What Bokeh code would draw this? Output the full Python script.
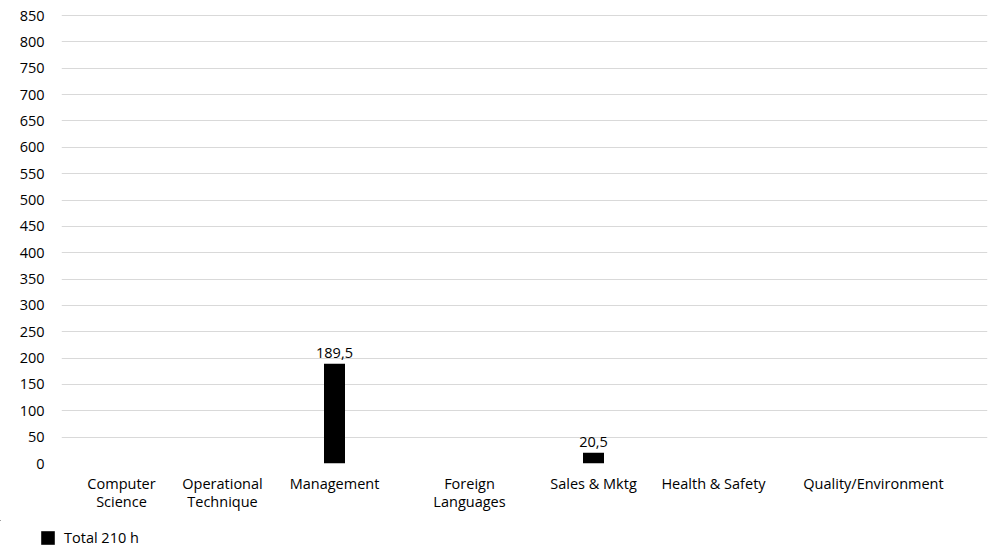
from bokeh.plotting import figure
from bokeh.layouts import column
from bokeh.models import Range1d, FixedTicker, Legend, LegendItem, ColumnDataSource, LabelSet
from bokeh.core.properties import value
from bokeh.embed import file_html
from bokeh.resources import INLINE

# ---- data ----
categories = ["Computer\nScience", "Operational\nTechnique", "Management",
              "Foreign\nLanguages", "Sales & Mktg", "Health & Safety",
              "Quality/Environment"]
hours = [0, 0, 189.5, 0, 20.5, 0, 0]
series_name = "Total 210 h"
y_ticks = list(range(0, 851, 50))

# ---- layout (column slot centres along the category axis, in plot units) ----
slot_centres = [60, 161, 273, 408, 532, 652, 812]
axis_span = 926
bar_width = 21

FONT = "Open Sans"
FS = "14.5px"

labels = [("%.1f" % v).replace(".", ",") for v in hours]
src = ColumnDataSource(dict(x=slot_centres, top=hours, lab=labels))

p = figure(width=993, height=520, output_backend="svg", toolbar_location=None,
           x_range=Range1d(0, axis_span), y_range=Range1d(0, 852),
           min_border_left=61, min_border_right=6, min_border_top=14,
           min_border_bottom=57)
p.frame_align = False
p.outline_line_color = None
p.background_fill_color = "white"
p.border_fill_color = "white"

r = p.vbar(x="x", top="top", width=bar_width, bottom=0, source=src,
           fill_color="black", line_color=None)

nz = ColumnDataSource(dict(x=[x for x, v in zip(slot_centres, hours) if v],
                           top=[v for v in hours if v],
                           lab=[l for l, v in zip(labels, hours) if v]))
lbl = LabelSet(x="x", y="top", text="lab", source=nz, text_align="center",
               text_baseline="bottom", y_offset=6, text_font=value(FONT),
               text_font_size=value(FS), text_color="#000000")
p.add_layout(lbl)

# axes
p.yaxis.ticker = FixedTicker(ticks=y_ticks)
p.yaxis.axis_line_color = None
p.yaxis.major_tick_line_color = None
p.yaxis.minor_tick_line_color = None
p.yaxis.major_tick_out = 0
p.yaxis.major_tick_in = 0
p.yaxis.major_label_standoff = 17
p.yaxis.major_label_text_font = FONT
p.yaxis.major_label_text_font_size = FS
p.yaxis.major_label_text_color = "#000000"

p.xaxis.ticker = FixedTicker(ticks=slot_centres)
p.xaxis.major_label_overrides = {c: lab for c, lab in zip(slot_centres, categories)}
p.xaxis.axis_line_color = None
p.xaxis.major_tick_line_color = None
p.xaxis.minor_tick_line_color = None
p.xaxis.major_tick_out = 0
p.xaxis.major_tick_in = 0
p.xaxis.major_label_standoff = 10
p.xaxis.major_label_text_font = FONT
p.xaxis.major_label_text_font_size = FS
p.xaxis.major_label_text_color = "#000000"
p.xaxis.major_label_text_line_height = 0.95

p.xgrid.grid_line_color = None
p.ygrid.ticker = FixedTicker(ticks=y_ticks)
p.ygrid.grid_line_color = "#d9d9d9"
p.ygrid.grid_line_width = 1

# ---- legend strip (same series; its bars lie outside this strip's ranges) ----
leg = figure(width=993, height=28, output_backend="svg", toolbar_location=None,
             x_range=Range1d(5000, 5993), y_range=Range1d(-5000, -4972),
             x_axis_location=None, y_axis_location=None,
             min_border=0, min_border_left=0, min_border_right=0,
             min_border_top=0, min_border_bottom=0)
leg.frame_align = False
leg.outline_line_color = None
leg.grid.visible = False
leg_r = leg.vbar(x="x", top="top", bottom=0, width=bar_width, source=src,
                 fill_color="black", line_color=None)
legend = Legend(items=[LegendItem(label=series_name, renderers=[leg_r])],
                location=(39, 1), orientation="horizontal",
                border_line_color=None, background_fill_alpha=0,
                padding=0, margin=0, spacing=0,
                glyph_width=17, glyph_height=17, label_height=17,
                label_standoff=8, label_text_font=FONT,
                label_text_font_size=FS, label_text_color="#000000")
leg.add_layout(legend, "center")

layout = column(p, leg, spacing=0)
open("out.html", "w").write(file_html(layout, INLINE))
